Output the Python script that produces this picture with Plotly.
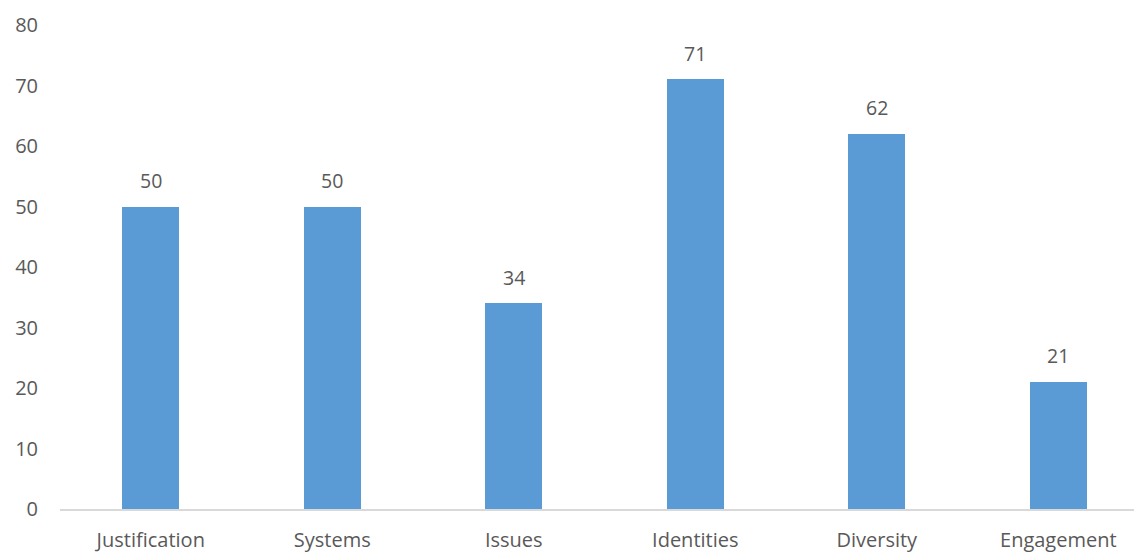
import plotly.graph_objects as go

categories = ["Justification", "Systems", "Issues", "Identities", "Diversity", "Engagement"]
values = [50, 50, 34, 71, 62, 21]
y_ticks = [0, 10, 20, 30, 40, 50, 60, 70, 80]

FONT = "Open Sans, Liberation Sans, sans-serif"
GREY = "#595959"

fig = go.Figure()
fig.add_trace(go.Bar(
    x=categories, y=values,
    marker=dict(color="#5B9BD5", line=dict(width=0)),
    width=0.314,
    hoverinfo="x+y",
))

for c, v in zip(categories, values):
    fig.add_annotation(x=c, y=v, text=str(v), showarrow=False,
                       yanchor="middle", yshift=26,
                       font=dict(family=FONT, size=19.5, color=GREY))

fig.update_layout(
    width=1134, height=553,
    margin=dict(l=60, r=0, t=25, b=44),
    paper_bgcolor="white", plot_bgcolor="white",
    showlegend=False,
    font=dict(family=FONT, size=20, color=GREY),
    bargap=0,
)
fig.update_xaxes(
    type="category",
    range=[-0.5, 5.417],
    showline=True, linecolor="#D9D9D9", linewidth=2,
    showgrid=False, ticks="", ticklabelstandoff=12,
    tickfont=dict(family=FONT, size=20, color=GREY),
)
fig.update_yaxes(
    range=[0, 80], tickvals=y_ticks,
    showgrid=False, zeroline=False, showline=False, ticks="",
    ticklabelstandoff=21,
    tickfont=dict(family=FONT, size=20, color=GREY),
)

fig.write_html("out.html")
